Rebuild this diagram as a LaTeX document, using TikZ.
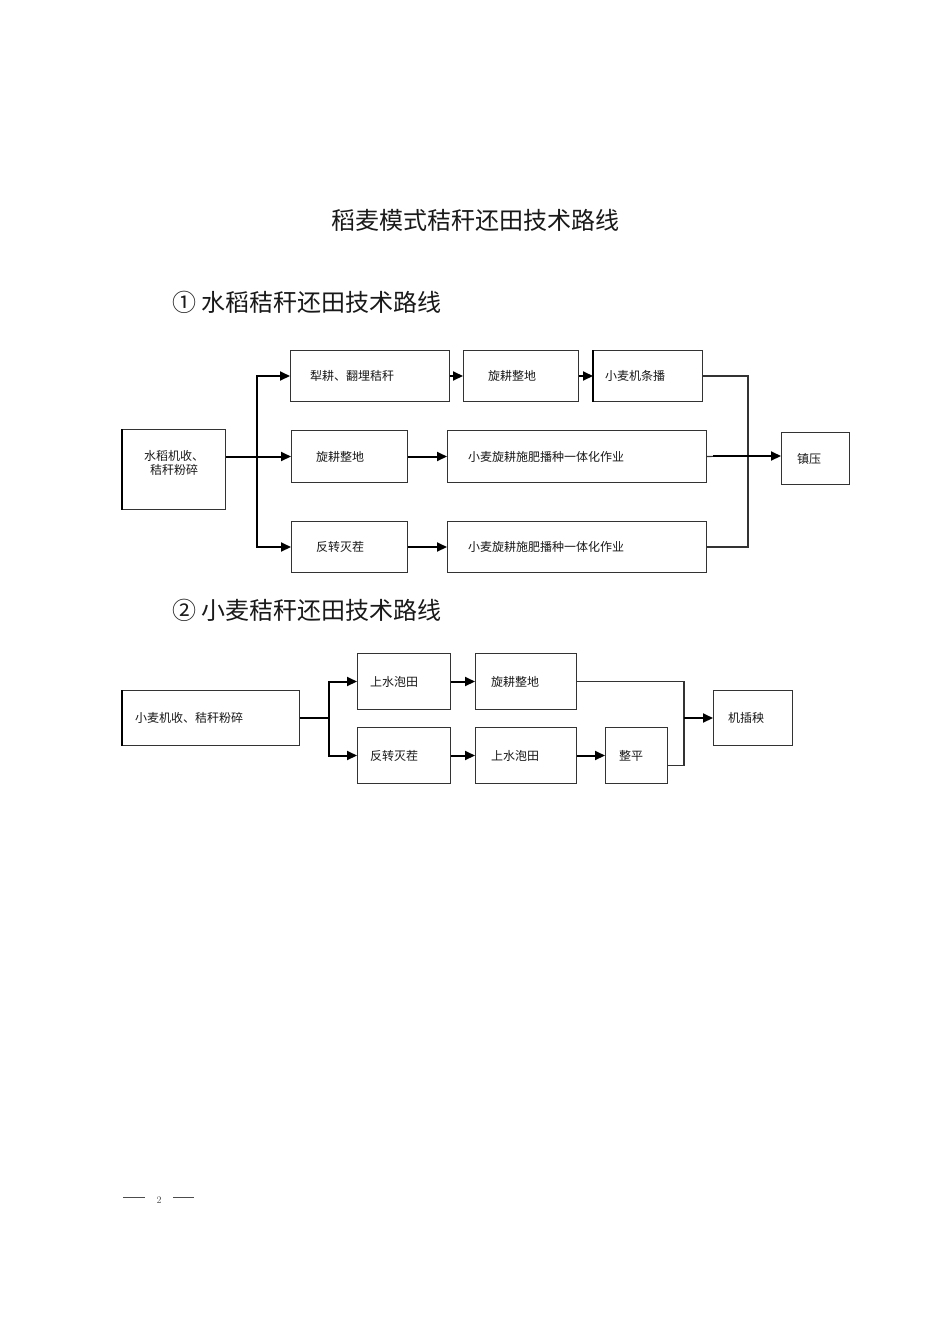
\documentclass[tikz,border=0pt]{standalone}
\usepackage{fontspec}
\newfontfamily\cjk{Noto Sans CJK SC}
\usetikzlibrary{arrows.meta}
\tikzset{
  box/.style={draw=black!80, line width=1pt, inner sep=0pt, fill=white},
  lbl/.style={font=\cjk\fontsize{12}{14}\selectfont, inner sep=0pt, text=black!90},
  conn/.style={draw=black, line width=2pt},
  arr/.style={conn, -{Triangle[length=10pt,width=9pt]}},
  thin conn/.style={draw=black!80, line width=1.1pt},
  head/.style={font=\cjk\fontsize{24}{28}\selectfont, inner sep=0pt, text=black!90}
}
\newcommand\mybox[7]{%
  \node[box, minimum width=#4pt, minimum height=#5pt, anchor=north west] (#1) at (#2,#3) {};
  \node[lbl, anchor=west] (#1t) at ([xshift=#6pt]#1.west) {#7};}
\begin{document}
\begin{tikzpicture}[x=1pt,y=-1pt]
\useasboundingbox[fill=white] (0,0) rectangle (950,1344);

% headings
\node[head] (title) at (475,220) {稻麦模式秸秆还田技术路线};
\node[head, anchor=west] (h1) at (172,302) {① 水稻秸秆还田技术路线};
\node[head, anchor=west] (h2) at (172,610) {② 小麦秸秆还田技术路线};

% ---------- section 1 ----------
\node[box, minimum width=103pt, minimum height=80pt, anchor=north west] (A) at (122,429) {};
\draw[line width=2pt, black] (A.north west) -- (A.south west);
\node[lbl, align=center] (At) at (174,463) {水稻机收、\\秸秆粉碎};

\mybox{B1}{290}{350}{159}{51}{20}{犁耕、翻埋秸秆}
\mybox{B2}{463}{350}{115}{51}{25}{旋耕整地}
\mybox{B3}{593}{350}{109}{51}{12}{小麦机条播}
\draw[line width=2pt, black] (B3.north west) -- (B3.south west);
\mybox{C1}{291}{430}{116}{52}{25}{旋耕整地}
\mybox{C2}{447}{430}{259}{52}{21}{小麦旋耕施肥播种一体化作业}
\mybox{D1}{291}{521}{116}{51}{25}{反转灭茬}
\mybox{D2}{447}{521}{259}{51}{21}{小麦旋耕施肥播种一体化作业}
\mybox{E}{781}{432}{68}{52}{16}{镇压}

\coordinate (br1) at (257,456);
\draw[arr] (A.east |- C1.west) -- (C1.west);
\draw[arr] (br1) |- (B1.west);
\draw[arr] (br1) |- (D1.west);
\draw[arr] (B1.east) -- (B2.west);
\draw[arr] (B2.east) -- (B3.west);
\draw[arr] (C1.east) -- (C2.west);
\draw[arr] (D1.east) -- (D2.west);
\coordinate (m1) at (748,456);
\draw[thin conn] (B3.east) -- (B3.east -| m1) -- (D2.east -| m1) -- (D2.east);
\draw[thin conn] (C2.east) -- (m1);
\draw[arr] ([xshift=-35pt]m1) -- (m1 -| E.west);

% ---------- section 2 ----------
\mybox{F}{122}{690}{177}{55}{13}{小麦机收、秸秆粉碎}
\draw[line width=2pt, black] (F.north west) -- (F.south west);
\mybox{G1}{357}{653}{93}{56}{13}{上水泡田}
\mybox{G2}{475}{653}{101}{56}{16}{旋耕整地}
\mybox{H1}{357}{727}{93}{56}{13}{反转灭茬}
\mybox{H2}{475}{727}{101}{56}{16}{上水泡田}
\mybox{H3}{605}{727}{62}{56}{14}{整平}
\mybox{I}{713}{690}{79}{55}{15}{机插秧}

\coordinate (br2) at (329,718);
\draw[conn] (F.east |- br2) -- (br2);
\draw[arr] (br2) |- (G1.west);
\draw[arr] (br2) |- (H1.west);
\draw[arr] (G1.east) -- (G2.west);
\draw[arr] (H1.east) -- (H2.west);
\draw[arr] (H2.east) -- (H3.west);
\coordinate (m2) at (684,718);
\draw[thin conn] (G2.east) -- (G2.east -| m2) -- ([yshift=-10pt]H3.east -| m2) -- ([yshift=-10pt]H3.east);
\draw[arr] (m2) -- (m2 -| I.west);

% ---------- footer ----------
\coordinate (f1) at (123,1197);
\coordinate (f2) at (145,1197);
\coordinate (f3) at (173,1197);
\coordinate (f4) at (194,1197);
\draw[black!70, line width=1pt] (f1) -- (f2);
\draw[black!70, line width=1pt] (f3) -- (f4);
\node[font=\fontsize{10}{12}\selectfont, text=black!70, inner sep=0pt] (pg) at (159,1200) {2};
\end{tikzpicture}
\end{document}
